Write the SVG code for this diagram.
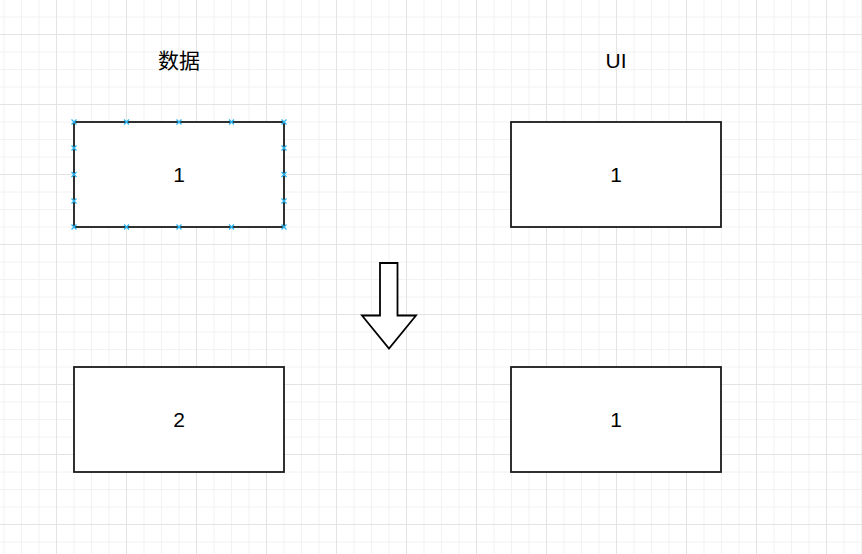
<svg xmlns="http://www.w3.org/2000/svg" xmlns:xlink="http://www.w3.org/1999/xlink" width="862" height="554" viewBox="0 0 862 554">
<style>
.box{fill:#fff;stroke:#1a1a1a;stroke-width:1.8}
.lbl{font-family:"Liberation Sans","Noto Sans CJK SC",sans-serif;font-size:21px;fill:#000;text-anchor:middle;dominant-baseline:central}
.minor{stroke:#f2f2f2;stroke-width:1}
.major{stroke:#e3e3e3;stroke-width:1}
.pt{stroke:#29b6f2;stroke-width:1.3;fill:none}
</style>
<defs>
<pattern id="grid" patternUnits="userSpaceOnUse" x="56" y="34" width="70" height="70">
<path class="minor" d="M18 0V70M35.5 0V70M53 0V70M0 18H70M0 35.5H70M0 53H70"/>
<path class="major" d="M0.5 0V70M0 0.5H70"/>
</pattern>
<path id="x" class="pt" d="M-2.5 -2.5L2.5 2.5M-2.5 2.5L2.5 -2.5"/>
</defs>
<rect width="862" height="554" fill="#fff"/>
<rect width="862" height="554" fill="url(#grid)"/>
<g id="title-data"><text class="lbl" x="179" y="60">数据</text></g>
<g id="title-ui"><text class="lbl" x="616" y="60">UI</text></g>
<g id="data1">
<rect class="box" x="74" y="122" width="210" height="105"/>
<text class="lbl" x="179" y="174">1</text>
<use xlink:href="#x" x="74" y="122"/><use xlink:href="#x" x="126.5" y="122"/><use xlink:href="#x" x="179" y="122"/><use xlink:href="#x" x="231.5" y="122"/><use xlink:href="#x" x="284" y="122"/>
<use xlink:href="#x" x="74" y="227"/><use xlink:href="#x" x="126.5" y="227"/><use xlink:href="#x" x="179" y="227"/><use xlink:href="#x" x="231.5" y="227"/><use xlink:href="#x" x="284" y="227"/>
<use xlink:href="#x" x="74" y="148"/><use xlink:href="#x" x="74" y="174.5"/><use xlink:href="#x" x="74" y="201"/>
<use xlink:href="#x" x="284" y="148"/><use xlink:href="#x" x="284" y="174.5"/><use xlink:href="#x" x="284" y="201"/>
</g>
<g id="ui1">
<rect class="box" x="511" y="122" width="210" height="105"/>
<text class="lbl" x="616" y="174">1</text>
</g>
<g id="data2">
<rect class="box" x="74" y="367" width="210" height="105"/>
<text class="lbl" x="179" y="419">2</text>
</g>
<g id="ui2">
<rect class="box" x="511" y="367" width="210" height="105"/>
<text class="lbl" x="616" y="419">1</text>
</g>
<g id="connectors">
<path d="M380 263H397.5V315.5H416L389 348.5L362 315.5H380Z" fill="#fff" stroke="#000" stroke-width="1.8" stroke-linejoin="miter"/>
</g>
</svg>
